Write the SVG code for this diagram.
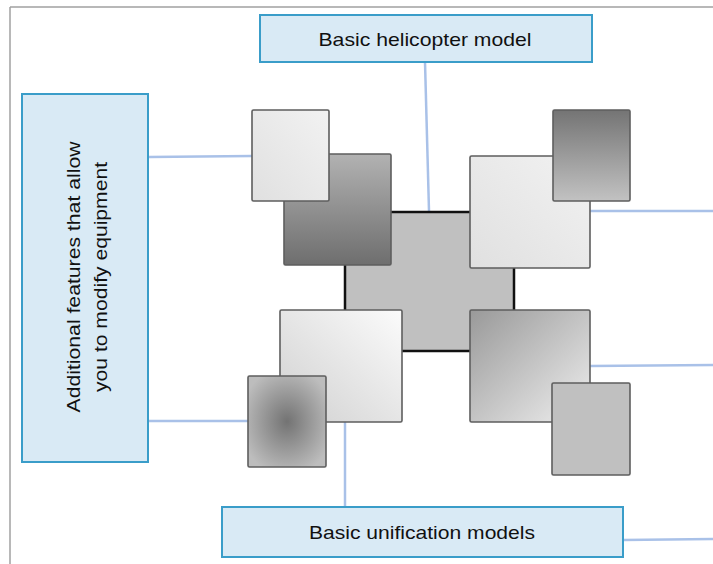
<svg xmlns="http://www.w3.org/2000/svg" width="713" height="564" viewBox="0 0 713 564">
<defs>
<linearGradient id="gDarkV" x1="0" y1="0" x2="0" y2="1"><stop offset="0" stop-color="#b2b2b2"/><stop offset="1" stop-color="#6e6e6e"/></linearGradient>
<linearGradient id="gDarkTop" x1="0" y1="0" x2="0" y2="1"><stop offset="0" stop-color="#747474"/><stop offset="1" stop-color="#c2c2c2"/></linearGradient>
<linearGradient id="gLight" x1="0" y1="1" x2="1" y2="0"><stop offset="0" stop-color="#e0e0e0"/><stop offset="1" stop-color="#f2f2f2"/></linearGradient>
<linearGradient id="gLightTR" x1="0" y1="1" x2="1" y2="0"><stop offset="0" stop-color="#d0d0d0"/><stop offset="1" stop-color="#fbfbfb"/></linearGradient>
<linearGradient id="gTL" x1="0" y1="0" x2="1" y2="1"><stop offset="0" stop-color="#999999"/><stop offset="1" stop-color="#efefef"/></linearGradient>
<radialGradient id="gRad" cx="0.5" cy="0.5" r="0.6"><stop offset="0" stop-color="#737373"/><stop offset="1" stop-color="#bdbdbd"/></radialGradient>
</defs>
<style>
.frame{stroke:#a0a0a0;stroke-width:1.5;fill:none}
.conn{stroke:#a9c1e8;stroke-width:2.5;fill:none}
.box{fill:#d9eaf5;stroke:#3a9dc9;stroke-width:2}
.sq{stroke:#5e5e5e;stroke-width:1.6}
.lbl{font-family:"Liberation Sans",Arial,sans-serif;font-size:18.5px;fill:#111;text-anchor:middle}
</style>
<line class="frame" x1="10" y1="7" x2="713" y2="7"/>
<line class="frame" x1="10" y1="7" x2="10" y2="564"/>
<g id="connectors">
<line class="conn" x1="425" y1="62" x2="429" y2="211"/>
<line class="conn" x1="149" y1="157" x2="252" y2="156"/>
<line class="conn" x1="149" y1="421" x2="248" y2="421"/>
<line class="conn" x1="590" y1="211" x2="713" y2="211"/>
<line class="conn" x1="590" y1="366" x2="713" y2="365"/>
<line class="conn" x1="345" y1="422" x2="345" y2="507"/>
<line class="conn" x1="623" y1="540" x2="713" y2="539"/>
</g>
<g id="center">
<rect x="345" y="212" width="169" height="139" fill="#c0c0c0" stroke="#111" stroke-width="2.5"/>
</g>
<g id="tl-big"><rect class="sq" x="284" y="154" width="107" height="111" rx="1.5" fill="url(#gDarkV)"/></g>
<g id="tl-small"><rect class="sq" x="252" y="110" width="77" height="91" rx="1.5" fill="url(#gLight)"/></g>
<g id="tr-big"><rect class="sq" x="470" y="156" width="120" height="112" rx="1.5" fill="url(#gLight)"/></g>
<g id="tr-small"><rect class="sq" x="553" y="110" width="77" height="91" rx="1.5" fill="url(#gDarkTop)"/></g>
<g id="bl-big"><rect class="sq" x="280" y="310" width="122" height="112" rx="1.5" fill="url(#gLightTR)"/></g>
<g id="bl-small"><rect class="sq" x="248" y="376" width="78" height="91" rx="1.5" fill="url(#gRad)"/></g>
<g id="br-big"><rect class="sq" x="470" y="310" width="120" height="112" rx="1.5" fill="url(#gTL)"/></g>
<g id="br-small"><rect class="sq" x="552" y="383" width="78" height="92" rx="1.5" fill="#c0c0c0"/></g>
<g id="box-helicopter">
<rect class="box" x="260" y="15" width="332" height="47"/>
<text class="lbl" x="425" y="46" textLength="213" lengthAdjust="spacingAndGlyphs">Basic helicopter model</text>
</g>
<g id="box-additional">
<rect class="box" x="22" y="94" width="126" height="368"/>
<text class="lbl" transform="translate(85,277) rotate(-90)"><tspan x="0" y="-5" textLength="271" lengthAdjust="spacingAndGlyphs">Additional features that allow</tspan><tspan x="0" y="22" textLength="230" lengthAdjust="spacingAndGlyphs">you to modify equipment</tspan></text>
</g>
<g id="box-unification">
<rect class="box" x="222" y="507" width="401" height="50"/>
<text class="lbl" x="422" y="539" textLength="226" lengthAdjust="spacingAndGlyphs">Basic unification models</text>
</g>
</svg>
